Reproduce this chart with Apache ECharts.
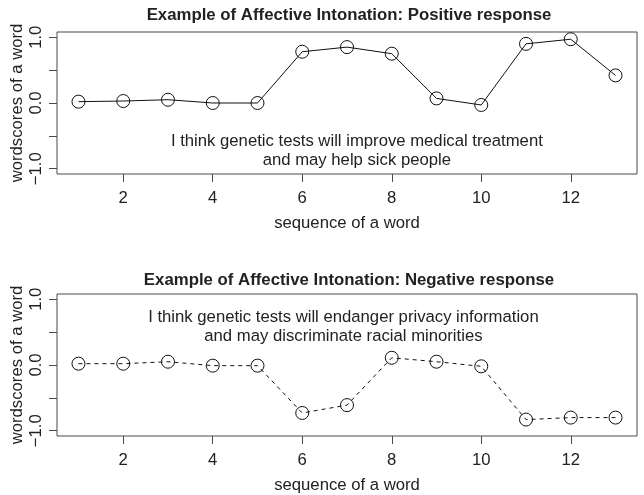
<!DOCTYPE html>
<html>
<head>
<meta charset="utf-8">
<script src="https://cdn.jsdelivr.net/npm/echarts@6/dist/echarts.min.js"></script>
<style>
html,body{margin:0;padding:0;background:#fff;}
#c{width:644px;height:495px;}
</style>
</head>
<body>
<div id="c"></div>
<script>
// ---- data ----
const wordIndex = [1,2,3,4,5,6,7,8,9,10,11,12,13];
const positiveScores = [0.02,0.03,0.05,0.00,0.00,0.78,0.85,0.75,0.07,-0.03,0.90,0.97,0.42];
const negativeScores = [0.02,0.02,0.05,-0.01,-0.01,-0.73,-0.61,0.11,0.05,-0.02,-0.83,-0.80,-0.80];
const xTicks = [2,4,6,8,10,12];
const yTicks = [-1,-0.5,0,0.5,1];
const yTickLabels = [-1,0,1];
const titles = ['Example of Affective Intonation: Positive response','Example of Affective Intonation: Negative response'];
const annotations = [
  'I think genetic tests will improve medical treatment\nand may help sick people',
  'I think genetic tests will endanger privacy information\nand may discriminate racial minorities'
];
const xName = 'sequence of a word';
const yName = 'wordscores of a word';

// ---- styling ----
const FONT = 'Liberation Sans, Arial, Helvetica, sans-serif';
const FS = 16.7;
const TXT = '#222';
const BOX = '#4a4a4a';

const chart = echarts.init(document.getElementById('c'), null, {renderer:'canvas'});

function xAxis(gi){
  return {
    type:'value', gridIndex:gi, min:0.52, max:13.48,
    name:xName, nameLocation:'middle', nameGap:41,
    nameTextStyle:{fontFamily:FONT,fontSize:FS,color:TXT},
    axisLine:{show:false,onZero:false},
    axisTick:{show:true,length:8,lineStyle:{color:BOX,width:1},customValues:xTicks},
    axisLabel:{show:true,margin:16,fontFamily:FONT,fontSize:FS,color:TXT,customValues:xTicks},
    splitLine:{show:false}
  };
}
function yAxis(gi){
  return {
    type:'value', gridIndex:gi, min:-1.08, max:1.08,
    name:yName, nameLocation:'middle', nameGap:31, nameMoveOverlap:false,
    nameTextStyle:{fontFamily:FONT,fontSize:FS,color:TXT},
    axisLine:{show:false,onZero:false},
    axisTick:{show:true,length:8,lineStyle:{color:BOX,width:1},customValues:yTicks},
    axisLabel:{show:true,rotate:90,margin:12,fontFamily:FONT,fontSize:FS,color:TXT,
      customValues:yTickLabels,
      formatter:v=>v.toFixed(1).replace('-','\u2212')},
    splitLine:{show:false}
  };
}
function series(gi,data,dashed,ann,annCoord){
  return {
    type:'line', xAxisIndex:gi, yAxisIndex:gi,
    data:wordIndex.map((x,i)=>[x,data[i]]),
    symbol:'circle', symbolSize:13,
    itemStyle:{color:'rgba(0,0,0,0)',borderColor:'#111',borderWidth:1},
    lineStyle:{color:'#111',width:1,type:dashed?[4,4]:'solid'},
    emphasis:{disabled:true},
    markPoint:{
      symbol:'circle', symbolSize:0, silent:true,
      label:{show:true,position:'inside',formatter:ann,fontFamily:FONT,fontSize:FS,
        color:TXT,lineHeight:19.5,align:'center',verticalAlign:'middle'},
      data:[{coord:annCoord}]
    }
  };
}

const gridBase = {left:57,width:580,height:142,show:true,borderColor:BOX,borderWidth:1,
  backgroundColor:'transparent',containLabel:false,outerBoundsMode:'none'};

const option = {
  animation:false,
  backgroundColor:'#fff',
  title:[
    {text:titles[0],left:344,top:2,textAlign:'center',
     textStyle:{fontFamily:FONT,fontSize:16.8,fontWeight:'bold',color:TXT}},
    {text:titles[1],left:344,top:267,textAlign:'center',
     textStyle:{fontFamily:FONT,fontSize:16.8,fontWeight:'bold',color:TXT}}
  ],
  grid:[
    Object.assign({top:32},gridBase),
    Object.assign({top:294},gridBase)
  ],
  xAxis:[xAxis(0),xAxis(1)],
  yAxis:[yAxis(0),yAxis(1)],
  series:[
    series(0,positiveScores,false,annotations[0],[7.22,-0.725]),
    series(1,negativeScores,true,annotations[1],[6.92,0.58])
  ]
};
chart.setOption(option);
</script>
</body>
</html>
